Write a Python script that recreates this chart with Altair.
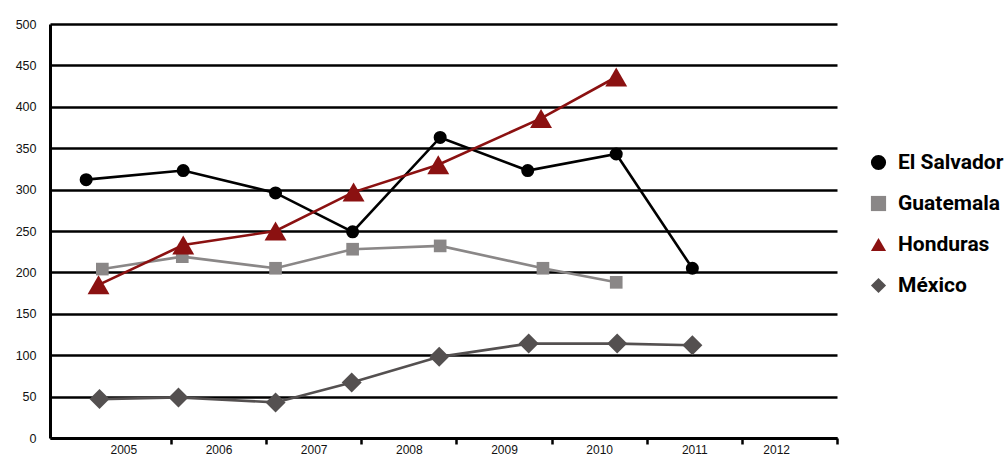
import altair as alt
import pandas as pd

countries = ["El Salvador", "Guatemala", "Honduras", "México"]
colors = ["#000000", "#8a8787", "#8b1111", "#545050"]
shapes = ["circle", "square", "triangle-up", "diamond"]
marker_sizes = [170, 160, 480, 400]

# Position of each observation along the year axis and its value
el_salvador_x = [2004.61, 2005.63, 2006.60, 2007.41, 2008.33, 2009.25, 2010.18, 2010.98]
el_salvador_y = [312, 323, 296, 249, 363, 323, 343, 205]

guatemala_x = [2004.78, 2005.62, 2006.60, 2007.41, 2008.33, 2009.41, 2010.18]
guatemala_y = [204, 219, 205, 228, 232, 205, 188]

honduras_x = [2004.74, 2005.63, 2006.60, 2007.42, 2008.31, 2009.39, 2010.18]
honduras_y = [185, 233, 250, 297, 330, 386, 436]

mexico_x = [2004.75, 2005.58, 2006.60, 2007.40, 2008.32, 2009.26, 2010.19, 2010.98]
mexico_y = [47, 49, 43, 67, 98, 114, 114, 112]

year_labels = [2005, 2006, 2007, 2008, 2009, 2010, 2011, 2012]

series = {
    "El Salvador": (el_salvador_x, el_salvador_y),
    "Guatemala": (guatemala_x, guatemala_y),
    "Honduras": (honduras_x, honduras_y),
    "México": (mexico_x, mexico_y),
}
rows = []
for name, (xs, ys) in series.items():
    for x, y in zip(xs, ys):
        rows.append({"pais": name, "anio": x, "valor": y})
df = pd.DataFrame(rows)

# ticks sit on the boundaries between years, labels are shifted back to the middle
tick_values = [y + 0.5 for y in year_labels]

x_enc = alt.X(
    "anio:Q",
    scale=alt.Scale(domain=[2004.23, 2012.5], nice=False, zero=False),
    axis=alt.Axis(
        values=tick_values,
        labelExpr="format(datum.value - 0.5, 'd')",
        labelOffset=-47.5,
        title=None,
        grid=False,
        domainColor="#000000",
        domainWidth=3,
        tickColor="#000000",
        tickWidth=2.5,
        tickSize=6,
        labelFont="Liberation Sans",
        labelFontSize=12,
        labelColor="#111111",
        labelPadding=0,
    ),
)
y_enc = alt.Y(
    "valor:Q",
    scale=alt.Scale(domain=[0, 500], nice=False),
    axis=alt.Axis(
        values=list(range(0, 501, 50)),
        title=None,
        grid=True,
        gridColor="#000000",
        gridWidth=2.6,
        gridOpacity=1,
        domainColor="#000000",
        domainWidth=3,
        ticks=False,
        labelFont="Liberation Sans",
        labelFontSize=12.5,
        labelColor="#111111",
        labelPadding=14,
    ),
)
legend = alt.Legend(
    title=None,
    orient="none",
    legendX=818,
    legendY=128,
    labelFont="Roboto",
    labelFontSize=21,
    labelFontWeight="bold",
    labelColor="#000000",
    symbolSize=230,
    symbolStrokeWidth=0,
    rowPadding=19,
    labelOffset=9,
)
color_enc = alt.Color(
    "pais:N",
    scale=alt.Scale(domain=countries, range=colors),
    legend=legend,
)
shape_enc = alt.Shape(
    "pais:N",
    scale=alt.Scale(domain=countries, range=shapes),
    legend=legend,
)

lines = alt.Chart(df).mark_line(strokeWidth=2.6).encode(
    x=x_enc, y=y_enc, color=color_enc, detail="pais:N"
)

# marker area per country
size_expr = " : ".join(
    f"datum.pais === '{c}' ? {s}" for c, s in zip(countries[:-1], marker_sizes[:-1])
) + f" : {marker_sizes[-1]}"

points = (
    alt.Chart(df)
    .transform_calculate(msize=size_expr)
    .mark_point(filled=True, opacity=1)
    .encode(
        x=x_enc,
        y=y_enc,
        color=color_enc,
        shape=shape_enc,
        size=alt.Size("msize:Q", scale=None, legend=None),
    )
)

chart = (
    alt.layer(lines, points)
    .properties(
        width=787,
        height=414,
        autosize="none",
        padding={"left": 50, "top": 24, "right": 170, "bottom": 18},
        background="#ffffff",
    )
    .configure_view(stroke=None)
)

chart.save("out.html", embed_options={"renderer": "svg", "actions": False})
